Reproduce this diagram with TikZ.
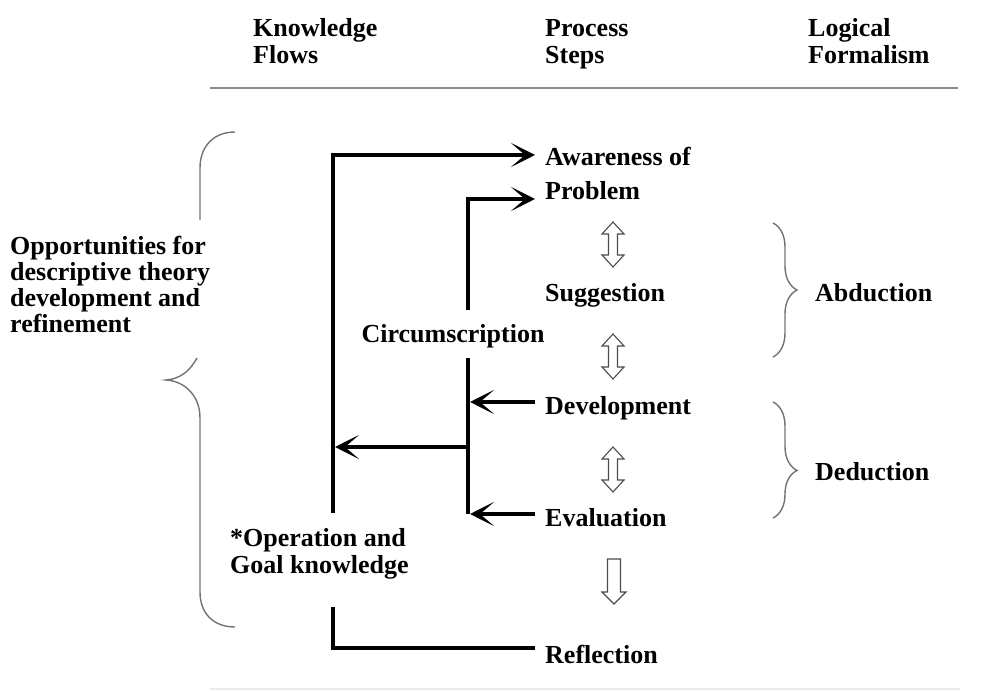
\documentclass[tikz,border=0pt]{standalone}
\usepackage{fontspec}
\setmainfont{Liberation Serif}
\usetikzlibrary{arrows.meta,decorations.pathreplacing}
\newcommand\dblarr[3]{%
  \draw[hollow] (#1,#2) -- (#1+11,#2+12) -- (#1+4.5,#2+12) -- (#1+4.5,#3-12) -- (#1+11,#3-12) -- (#1,#3)
    -- (#1-11,#3-12) -- (#1-4.5,#3-12) -- (#1-4.5,#2+12) -- (#1-11,#2+12) -- cycle;}
\begin{document}
\begin{tikzpicture}[x=1pt,y=-1pt,
  txt/.style={inner sep=0pt,anchor=base west,font=\fontsize{26}{27}\selectfont\bfseries},
  flow/.style={line width=3.8pt,-{Stealth[length=24pt,width=24pt,inset=14pt]}},
  plain/.style={line width=3.8pt},
  hollow/.style={draw=black!70,line width=1.1pt,fill=white,line join=miter},
  brc/.style={draw=black!55,line width=1.4pt},
  rule/.style={draw=black!45,line width=2.5pt}]
\useasboundingbox (0,0) rectangle (986,692);
% headers
\node[txt] (kn) at (253,37) {Knowledge};
\node[txt] (fl) at (253,64) {Flows};
\node[txt] (ps) at (545,37) {Process};
\node[txt] (st) at (545,64) {Steps};
\node[txt] (lg) at (808,37) {Logical};
\node[txt] (fm) at (808,64) {Formalism};
\coordinate (r1) at (210,88);
\coordinate (r2) at (958,88);
\draw[rule] (r1) -- (r2);
\coordinate (r3) at (210,689);
\coordinate (r4) at (960,689);
\draw[draw=black!8,line width=1.5pt] (r3) -- (r4);
% process steps
\node[txt] (aw) at (545,166) {Awareness of};
\node[txt] (pr) at (545,200) {Problem};
\node[txt] (sg) at (545,302) {Suggestion};
\node[txt] (dv) at (545,415) {Development};
\node[txt] (ev) at (545,527) {Evaluation};
\node[txt] (rf) at (545,663) {Reflection};
% knowledge flow labels
\node[txt,anchor=base] (ci) at (453,343) {Circumscription};
\node[txt] (op1) at (230,547) {*Operation and};
\node[txt] (op2) at (230,573) {Goal knowledge};
\node[txt] (dt1) at (10,255) {Opportunities for};
\node[txt] (dt2) at (10,281) {descriptive theory};
\node[txt] (dt3) at (10,307) {development and};
\node[txt] (dt4) at (10,333) {refinement};
\node[txt] (ab) at (815,302) {Abduction};
\node[txt] (de) at (815,481) {Deduction};
% outer loop
\coordinate (o1) at (333,513);
\coordinate (o2) at (333,155);
\draw[flow] (o1) -- (o2) -- ([xshift=-10pt]o2 -| aw.west);
\coordinate (b1) at (333,648);
\coordinate (b2) at (333,607);
\draw[plain] ([xshift=-10pt]b1 -| rf.west) -- (b1) -- (b2);
% inner loop
\coordinate (i0) at (468,310);
\coordinate (i1) at (468,199);
\draw[flow] (i0) -- (i1) -- ([xshift=-10pt]i1 -| pr.west);
\coordinate (i2) at (468,358);
\coordinate (i3) at (468,514);
\draw[plain] (i2) -- (i3);
\coordinate (d1) at (470,402);
\draw[flow] ([xshift=-10pt]d1 -| dv.west) -- (d1);
\coordinate (e1) at (470,514);
\draw[flow] ([xshift=-10pt]e1 -| ev.west) -- (e1);
\coordinate (m1) at (468,447);
\coordinate (m2) at (335,447);
\draw[flow] (m1) -- (m2);
% hollow process arrows
\dblarr{613}{222}{267}
\dblarr{613}{334}{379}
\dblarr{613}{447}{492}
\draw[hollow] (614-6.5,559) -- (614+6.5,559) -- (614+6.5,592) -- (614+12,592) -- (614,604)
  -- (614-12,592) -- (614-6.5,592) -- cycle;
% right braces
\coordinate (ba1) at (773,223);
\coordinate (ba2) at (773,357);
\draw[brc,decorate,decoration={brace,amplitude=24pt}] (ba1) -- (ba2);
\coordinate (bd1) at (773,402);
\coordinate (bd2) at (773,518);
\draw[brc,decorate,decoration={brace,amplitude=24pt,aspect=0.59}] (bd1) -- (bd2);
% left brace
\draw[brc] (235,132) .. controls (214,132) and (200,146) .. (200,168) -- (200,220);
\draw[brc] (197,358) .. controls (190,371) and (180,379) .. (166,380)
  .. controls (184,381) and (200,395) .. (200,418) -- (200,592)
  .. controls (200,614) and (214,627) .. (235,627);
\end{tikzpicture}
\end{document}
